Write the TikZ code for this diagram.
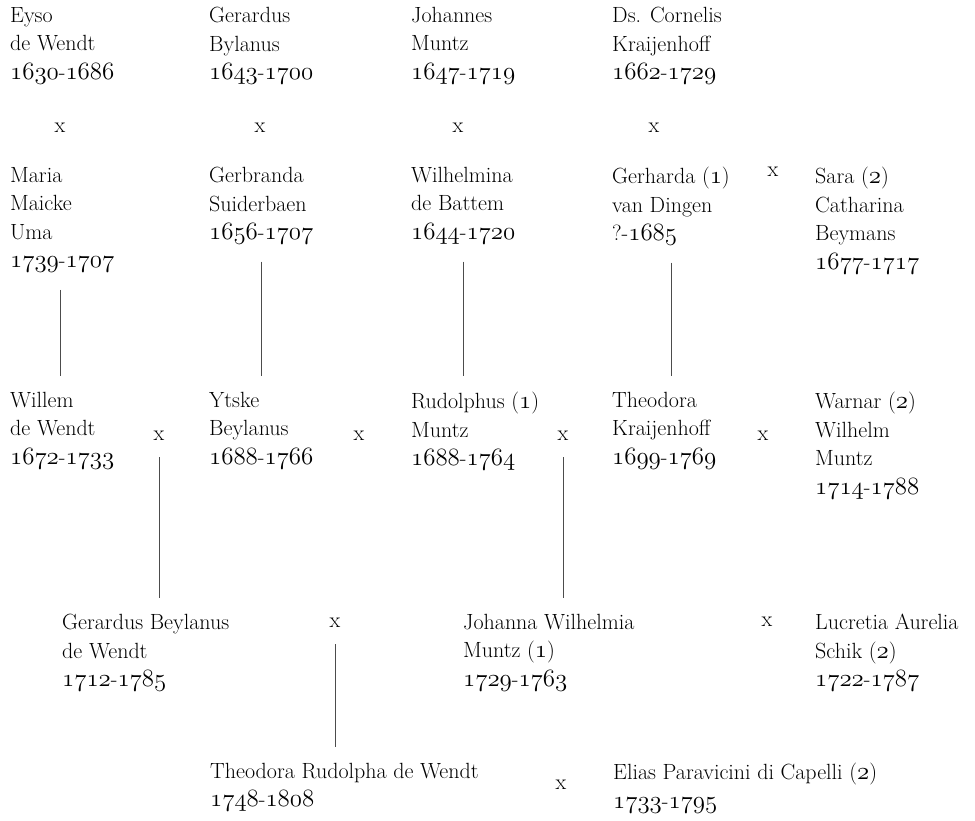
\documentclass[tikz,border=0pt]{standalone}
\usetikzlibrary{calc}
\newcommand\osf[1]{{\fontsize{23}{28.5}\usefont{OML}{lmm}{m}{it}#1}}
\newcommand\yrs[2]{\osf{#1}-\osf{#2}}
\newcommand\nr[1]{(\osf{#1})}

\begin{document}
\begin{tikzpicture}[x=1pt,y=-1pt,
    person/.style={anchor=north west,yshift=19pt,align=left,inner sep=0pt,
      font=\fontsize{22}{28.5}\selectfont,text=black,
      execute at begin node=\rule{0pt}{19pt}},
    marr/.style={anchor=base,inner sep=0pt,font=\fontsize{22}{28.5}\selectfont,text=black},
    kin/.style={draw=black!70,line width=.7pt,shorten <=17pt,shorten >=16pt}]
      \fill[white](0,0)rectangle(975,821);
      \useasboundingbox(0,0)rectangle(975,821);

      \node[person] (eyso) at (10,26) {Eyso\\de Wendt\\\yrs{1630}{1686}};
      \node[person] (gerardus) at (209,26) {Gerardus\\Bylanus\\\yrs{1643}{1700}};
      \node[person] (johannes) at (411,26) {Johannes\\Muntz\\\yrs{1647}{1719}};
      \node[person] (cornelis) at (612,26) {Ds. Cornelis\\Kraijenhoff\\\yrs{1662}{1729}};

      \node[person] (maria) at (10,186) {Maria\\Maicke\\Uma\\\yrs{1739}{1707}};
      \node[person] (gerbranda) at (209,186) {Gerbranda\\Suiderbaen\\\yrs{1656}{1707}};
      \node[person] (wilhelmina) at (411,186) {Wilhelmina\\de Battem\\\yrs{1644}{1720}};
      \node[person] (gerharda) at (612,186) {Gerharda \nr{1}\\van Dingen\\?-\osf{1685}};
      \node[person] (sara) at (815,186) {Sara \nr{2}\\Catharina\\Beymans\\\yrs{1677}{1717}};

      \node[person] (willem) at (10,411) {Willem\\de Wendt\\\yrs{1672}{1733}};
      \node[person] (ytske) at (209,411) {Ytske\\Beylanus\\\yrs{1688}{1766}};
      \node[person] (rudolphus) at (411,411) {Rudolphus \nr{1}\\Muntz\\\yrs{1688}{1764}};
      \node[person] (theodora) at (612,411) {Theodora\\Kraijenhoff\\\yrs{1699}{1769}};
      \node[person] (warnar) at (815,411) {Warnar \nr{2}\\Wilhelm\\Muntz\\\yrs{1714}{1788}};

      \node[person] (gerardusb) at (62,633) {Gerardus Beylanus\\de Wendt\\\yrs{1712}{1785}};
      \node[person] (johanna) at (463,633) {Johanna Wilhelmia\\Muntz \nr{1}\\\yrs{1729}{1763}};
      \node[person] (lucretia) at (815,633) {Lucretia Aurelia\\Schik \nr{2}\\\yrs{1722}{1787}};

      \node[person] (theodorar) at (210,782) {Theodora Rudolpha de Wendt\\\yrs{1748}{1808}};
      \node[person] (elias) at (613,782) {Elias Paravicini di Capelli \nr{2}\\\yrs{1733}{1795}};

      \foreach \n/\x/\y in {
        m1/60/133,m2/260/133,m3/458/133,m4/654/133,m5/773/177,
        m6/159/440,m7/359/440,m8/563/440,m9/763/440,
        m10/335/627,m11/767/626,
        m12/561/789
        }{
          \node[marr] (\n) at (\x,\y) {x};
        }

      \draw[kin]([xshift=50pt]maria.south west)--([xshift=50pt]maria.south west |- willem.north);
      \draw[kin](gerbranda.south)--(gerbranda.south |- ytske.north);
      \draw[kin](wilhelmina.south)--(wilhelmina.south |- rudolphus.north);
      \draw[kin](gerharda.south)--(gerharda.south |- theodora.north);
      \draw[kin](m6.south)--(m6.south |- gerardusb.north);
      \draw[kin](m8.south)--(m8.south |- johanna.north);
      \draw[kin](m10.south)--(m10.south |- theodorar.north);
    \end{tikzpicture}
\end{document}
